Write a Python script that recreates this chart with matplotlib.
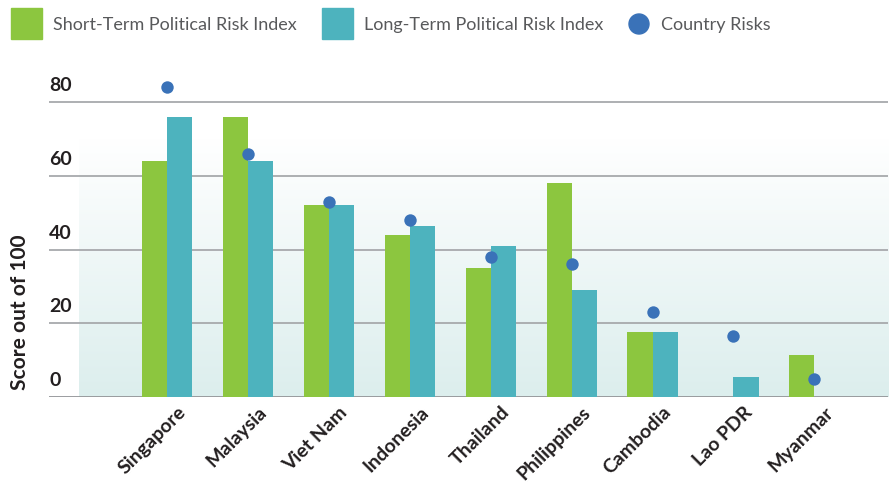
import numpy as np
import matplotlib
matplotlib.use('Agg')
import matplotlib.pyplot as plt
from matplotlib.patches import Rectangle, Ellipse

countries = ['Singapore', 'Malaysia', 'Viet Nam', 'Indonesia', 'Thailand',
             'Philippines', 'Cambodia', 'Lao PDR', 'Myanmar']
short_term = [64, 76, 52, 44, 35, 58, 17.5, 0, 11.5]
long_term = [76, 64, 52, 46.5, 41, 29, 17.5, 5.5, 0]
country_risk = [84, 66, 53, 48, 38, 36, 23, 16.5, 5]
yticks = [0, 20, 40, 60, 80]
legend_labels = ['Short-Term Political Risk Index', 'Long-Term Political Risk Index', 'Country Risks']

green = '#8cc63f'
teal = '#4db3be'
blue = '#3a72b8'
grid_col = '#a7a9ac'
dark = '#231f20'

plt.rcParams['font.family'] = ['Lato', 'DejaVu Sans']

W, H = 893, 485
fig = plt.figure(figsize=(W / 100, H / 100), dpi=100)
ax = fig.add_axes([49 / W, 87 / H, 839 / W, 317 / H])

x = np.arange(len(countries))
w = 0.31
ax.set_xlim(-1.46, 8.91)
ax.set_ylim(0, 86)

# soft gradient behind the bars
grad = np.linspace(0, 1, 256).reshape(-1, 1)
bottom_c = np.array([220, 238, 237]) / 255
top_c = np.array([255, 255, 255]) / 255
img = grad[:, :, None] * top_c + (1 - grad[:, :, None]) * bottom_c
ax.imshow(img, extent=(-1.09, 8.91, 0, 70), origin='lower', aspect='auto', zorder=0)

for v in yticks:
    ax.axhline(v, color=grid_col if v else '#939598', lw=1.3, zorder=1)
    ax.annotate(str(v), xy=(0, v), xycoords=ax.get_yaxis_transform(),
                xytext=(0, 8.6), textcoords='offset points',
                ha='left', va='baseline', fontsize=14, fontweight='bold', color=dark)

ax.bar(x - w / 2, short_term, w, color=green, zorder=2)
ax.bar(x + w / 2, long_term, w, color=teal, zorder=2)
ax.scatter(x, country_risk, s=80, color=blue, zorder=3, linewidths=0)

ax.set_xticks(x + 0.12)
ax.set_xticklabels(countries, rotation=45, ha='right', rotation_mode='anchor',
                   fontsize=14, fontweight='bold', color=dark)
ax.tick_params(axis='x', length=0, pad=4)
ax.set_yticks([])
for s in ax.spines.values():
    s.set_visible(False)

fig.text(20 / W, 1 - 312 / H, 'Score out of 100', rotation=90, ha='center', va='center',
         fontsize=15, fontweight='bold', color=dark)

# legend, laid out by hand in pixel space
px = fig.transFigure
fig.patches.append(Rectangle((11 / W, 1 - 40 / H), 31 / W, 31 / H, color=green, transform=px))
fig.patches.append(Rectangle((322 / W, 1 - 40 / H), 31 / W, 31 / H, color=teal, transform=px))
fig.patches.append(Ellipse((639 / W, 1 - 25 / H), 20 / W, 20 / H, color=blue, transform=px))
for lx, lab in zip([53, 364, 661], legend_labels):
    fig.text(lx / W, 1 - 25 / H, lab, ha='left', va='center', fontsize=13, color='#58595b')

fig.savefig('out.png', dpi=100)
